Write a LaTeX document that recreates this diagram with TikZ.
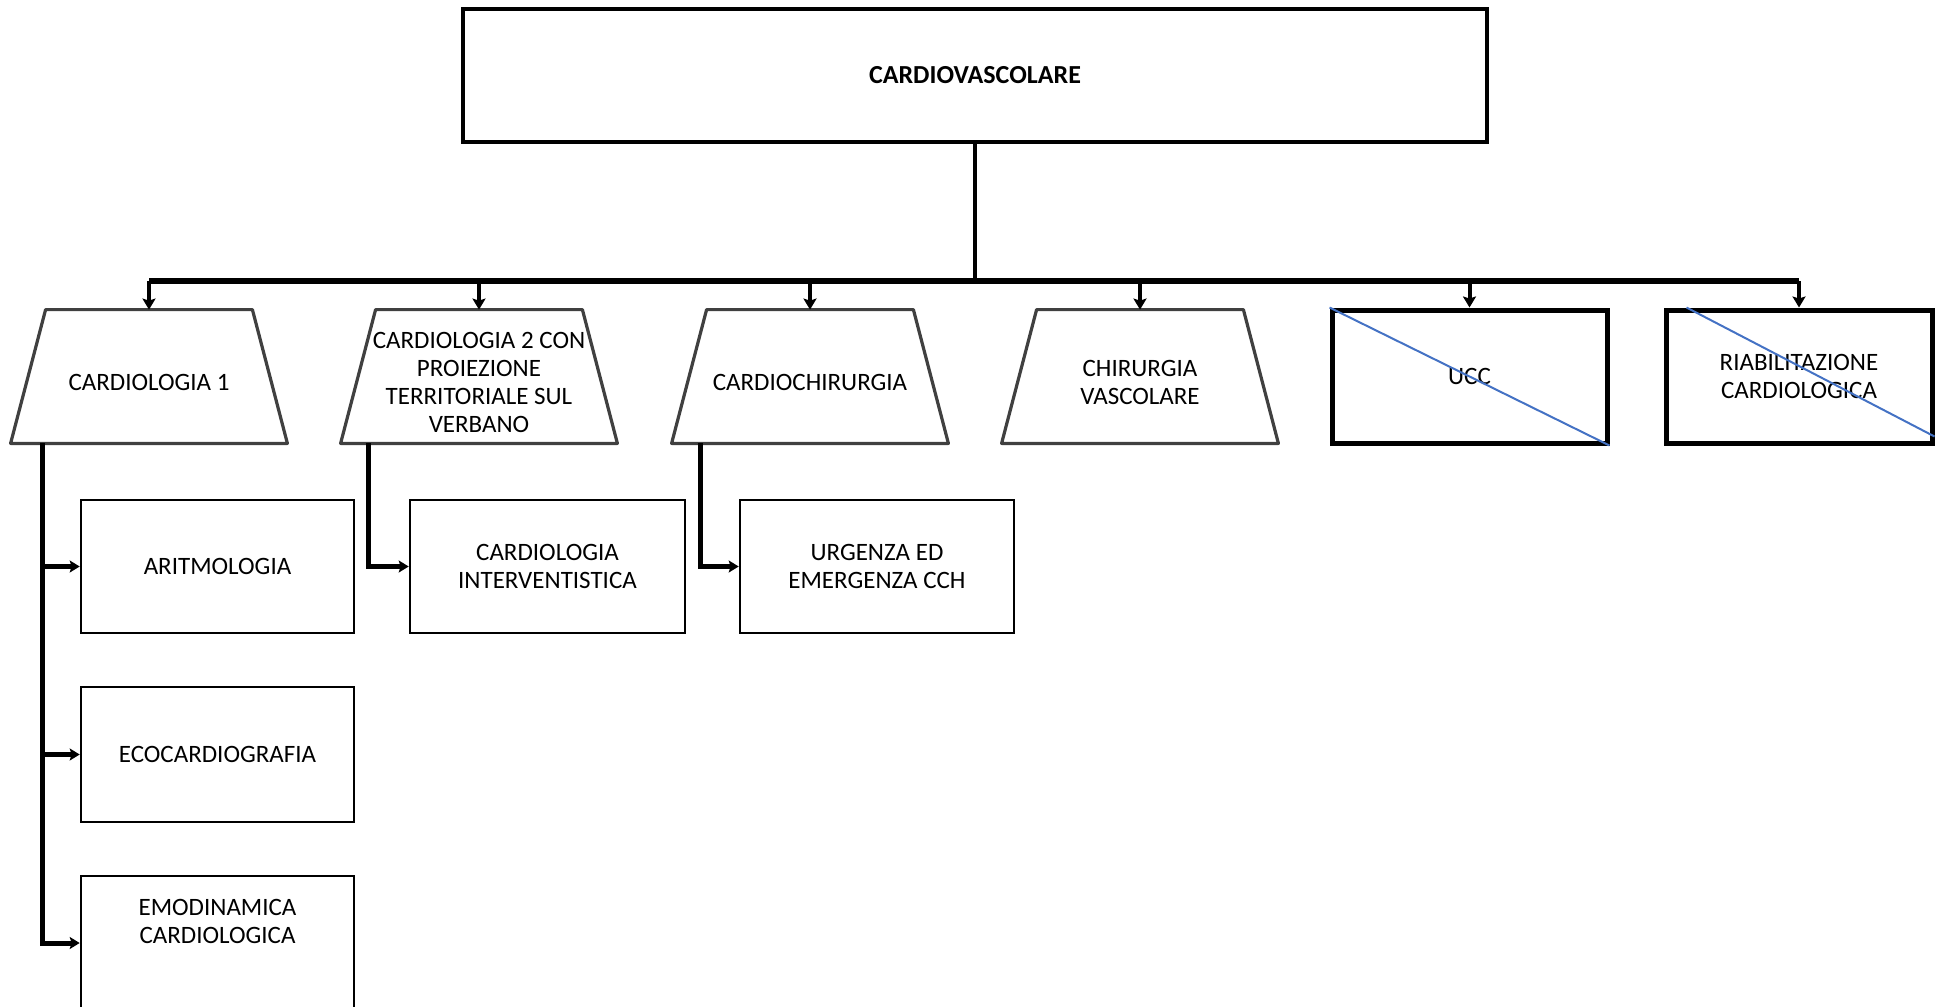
\documentclass[tikz,border=0pt]{standalone}
\usepackage{fontspec}
\setmainfont{Carlito}
\usetikzlibrary{arrows.meta,calc}

\begin{document}
\begin{tikzpicture}[x=0.5pt,y=-0.5pt,
  txt/.style={font=\fontsize{12.5}{14}\selectfont, align=center, text=black},
  topbox/.style={draw, line width=2pt, minimum width=512pt, minimum height=66.5pt,
    inner sep=0pt, txt, font=\fontsize{13}{14}\selectfont\bfseries},
  trapbase/.style={minimum width=138pt, minimum height=66.5pt, inner sep=0pt,
    label={[txt, yshift=-3pt]center:{#1}}},
  trapline/.style={draw=black!75, line width=1.6pt, line join=round},
  strikebox/.style={draw, line width=2.5pt, minimum height=66.5pt, inner sep=0pt, txt},
  subbox/.style={draw, line width=1.3pt, minimum width=136.5pt, minimum height=66.5pt,
    inner sep=0pt, txt},
  bus/.style={line width=3pt},
  drop/.style={line width=2pt, -{Stealth[length=5.5pt,width=6.5pt,inset=1pt]}},
  branch/.style={line width=2.5pt, -{Stealth[length=5pt,width=6pt,inset=1pt]}},
  strike/.style={draw={rgb,255:red,68;green,114;blue,196}, line width=1pt}
]
\useasboundingbox (0,0) rectangle (1935,1007);

% root
\node[topbox] (root) at (975,75.5) {CARDIOVASCOLARE};

% second level
\node[trapbase={CARDIOLOGIA 1}] (t1) at (149,376.5) {};
\node[trapbase={CARDIOLOGIA 2 CON\\PROIEZIONE\\TERRITORIALE SUL\\VERBANO}] (t2) at (479,376.5) {};
\node[trapbase={CARDIOCHIRURGIA}] (t3) at (810,376.5) {};
\node[trapbase={CHIRURGIA\\VASCOLARE}] (t4) at (1140,376.5) {};
\node[strikebox, minimum width=137.5pt] (ucc) at (1469.5,376.5) {UCC};
\node[strikebox, minimum width=133pt] (riab) at (1799,376.5) {RIABILITAZIONE\\CARDIOLOGICA};

% trapezoid outlines
\foreach \t in {t1,t2,t3,t4}{
  \draw[trapline] (\t.south west) -- (\t.south east)
    -- ([xshift=-17.5pt]\t.north east) -- ([xshift=17.5pt]\t.north west) -- cycle;
}

% crossed-out units
\draw[strike] (ucc.north west) -- (ucc.south east);
\draw[strike] ([xshift=11.5pt]riab.north west) -- ([yshift=4.5pt]riab.south east);

% third level
\node[subbox] (arit) at (217.5,566.5) {ARITMOLOGIA};
\node[subbox, minimum height=67.5pt] (eco) at (217.5,754.5) {ECOCARDIOGRAFIA};
\node[subbox, minimum height=67pt,
  label={[txt, yshift=11pt]center:{EMODINAMICA\\CARDIOLOGICA}}] (emo) at (217.5,943) {};
\node[subbox, minimum width=137.5pt] (cint) at (547.5,566.5) {CARDIOLOGIA\\INTERVENTISTICA};
\node[subbox, minimum width=137pt] (urg) at (877,566.5) {URGENZA ED\\EMERGENZA CCH};

% root to distribution bar
\coordinate (busc) at (975,281);
\draw[line width=2pt] (root.south) -- (busc);
\draw[bus] (t1.north |- busc) -- (riab.north |- busc);
\foreach \n in {t1,t2,t3,t4,ucc,riab}{
  \draw[drop] (\n.north |- busc) -- (\n.north);
}

% branches to the sub-units
\draw[branch] ([xshift=16pt]t1.south west) |- (arit.west);
\draw[branch] ([xshift=16pt]t1.south west) |- (eco.west);
\draw[branch] ([xshift=16pt]t1.south west) |- (emo.west);
\draw[branch] ([xshift=14pt]t2.south west) |- (cint.west);
\draw[branch] ([xshift=14.5pt]t3.south west) |- (urg.west);
\end{tikzpicture}
\end{document}
